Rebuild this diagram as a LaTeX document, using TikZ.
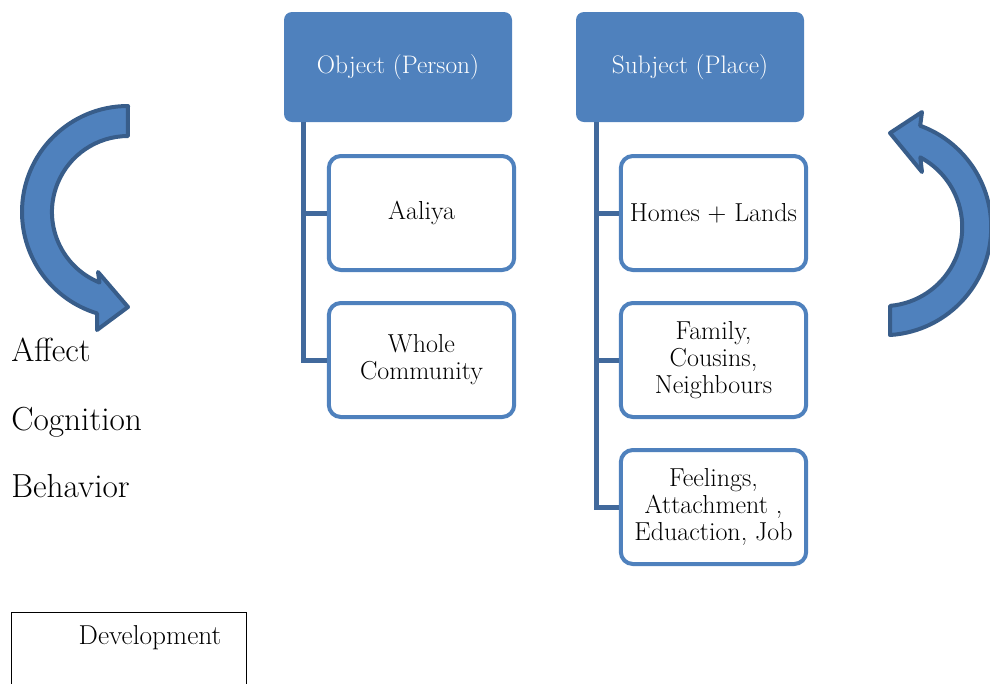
\documentclass[tikz,border=0pt]{standalone}

\definecolor{hdrblue}{HTML}{4F81BD}
\definecolor{edgeblue}{HTML}{385D8A}
\definecolor{lineblue}{HTML}{41699C}

\begin{document}
\begin{tikzpicture}[x=0.75pt,y=-0.75pt,
  hdr/.style={fill=hdrblue, rounded corners=6pt, minimum width=171pt, minimum height=82.5pt, text=white, font=\fontsize{19}{22}\selectfont},
  leaf/.style={draw=hdrblue, line width=3pt, fill=white, rounded corners=9pt, minimum width=139pt, minimum height=85.5pt, align=center, font=\fontsize{19.5}{20.3}\selectfont},
  conn/.style={lineblue, line width=3.75pt},
  bigarrow/.style={fill=hdrblue, draw=edgeblue, line width=3pt, line join=round},
  sidetext/.style={anchor=base west, inner sep=0pt, font=\fontsize{25}{30}\selectfont}]
\useasboundingbox (0,0) rectangle (990,683);

% the two turning arrows
\draw [bigarrow] (128,106) arc [start angle=270, end angle=107, radius=106] -- (97,330) -- (128,307) -- (98,272) -- (99.5,282.5) arc [start angle=112, end angle=270, radius=76] -- cycle;
\draw [bigarrow] (890,335) arc [start angle=86.4, end angle=-70, radius=108] -- (922,112) -- (890,133) -- (922,172) -- (920.3,157.4) arc [start angle=-62, end angle=85, radius=79] -- cycle;

\node [sidetext] (affect) at (11,361) {Affect};
\node [sidetext] (cogn) at (11,430) {Cognition};
\node [sidetext] (behav) at (11,497) {Behavior};

\node [hdr] (obj) at (398,67) {Object (Person)};
\node [hdr] (subj) at (690,67) {Subject (Place)};

\node [leaf] (aaliya) at (421.5,213) {Aaliya};
\node [leaf] (commun) at (421.5,360) {Whole\\Community};
\node [leaf] (homes) at (713.5,213) {Homes + Lands};
\node [leaf] (family) at (713.5,360) {Family,\\Cousins,\\Neighbours};
\node [leaf] (feel) at (713.5,507) {Feelings,\\Attachment ,\\Eduaction, Job};

\draw [conn] (obj.south west) ++(20,0) |- (aaliya.west);
\draw [conn] (obj.south west) ++(20,0) |- (commun.west);
\draw [conn] (subj.south west) ++(21,0) |- (homes.west);
\draw [conn] (subj.south west) ++(21,0) |- (family.west);
\draw [conn] (subj.south west) ++(21,0) |- (feel.west);

\node [draw, line width=0.9pt, anchor=north west, inner sep=0pt, minimum width=176pt, minimum height=70pt] (devbox) at (11,612) {};
\node [font=\fontsize{20.5}{24}\selectfont] (devtext) at (150,638) {Development};
\end{tikzpicture}
\end{document}
